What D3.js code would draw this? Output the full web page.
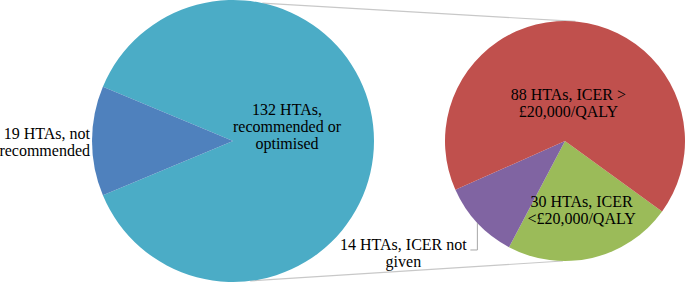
<!DOCTYPE html>
<html>
<head>
<meta charset="utf-8">
<script src="https://cdn.jsdelivr.net/npm/d3@7"></script>
<style>
  html, body { margin: 0; padding: 0; background: #fff; }
</style>
</head>
<body>
<script>
// data
const mainLabels = [["132 HTAs,", "recommended or", "optimised"], ["19 HTAs, not", "recommended"]];
const mainValues = [132, 19];
const mainColors = ["#4bacc6", "#4f81bd"];

const subLabels = [["30 HTAs, ICER", "<£20,000/QALY"], ["14 HTAs, ICER not", "given"], ["88 HTAs, ICER >", "£20,000/QALY"]];
const subValues = [30, 14, 88];
const subColors = ["#9bbb59", "#8064a2", "#c0504d"];

const width = 685, height = 282;
const rad = d => d * Math.PI / 180;

const svg = d3.select("body").append("svg")
  .attr("width", width).attr("height", height)
  .attr("font-family", "'Liberation Serif', 'Times New Roman', Times, 'DejaVu Serif', serif")
  .attr("font-size", 16);

// geometry
const L = { x: 233, y: 141, r: 141 };
const R = { x: 565, y: 141, r: 120 };

const pt = (c, a, r) => [c.x + r * Math.sin(rad(a)), c.y - r * Math.cos(rad(a))];

// connector lines (behind pies)
svg.append("line")
  .attr("x1", pt(L, 12, L.r)[0]).attr("y1", pt(L, 12, L.r)[1])
  .attr("x2", pt(R, 5, R.r)[0]).attr("y2", pt(R, 5, R.r)[1])
  .attr("stroke", "#c8c8c8").attr("stroke-width", 1.2);
svg.append("line")
  .attr("x1", pt(L, 173, L.r)[0]).attr("y1", pt(L, 173, L.r)[1])
  .attr("x2", pt(R, 181, R.r)[0]).attr("y2", pt(R, 181, R.r)[1])
  .attr("stroke", "#c8c8c8").attr("stroke-width", 1.2);

// left pie
const blueSpan = 360 * mainValues[1] / d3.sum(mainValues);
const pieL = d3.pie().sort(null).value(d => d)
  .startAngle(rad(270 + blueSpan / 2 - 360)).endAngle(rad(270 + blueSpan / 2));
const arcsL = pieL(mainValues);
const arcL = d3.arc().innerRadius(0).outerRadius(L.r);

const gL = svg.append("g").attr("transform", `translate(${L.x},${L.y})`);
gL.selectAll("path").data(arcsL).join("path")
  .attr("d", arcL).attr("fill", (d, i) => mainColors[i]);

// right pie
const pieR = d3.pie().sort(null).value(d => d)
  .startAngle(rad(126)).endAngle(rad(486));
const arcsR = pieR(subValues);
const arcR = d3.arc().innerRadius(0).outerRadius(R.r);

const gR = svg.append("g").attr("transform", `translate(${R.x},${R.y})`);
gR.selectAll("path").data(arcsR).join("path")
  .attr("d", arcR).attr("fill", (d, i) => subColors[i]);

// labels
function label(g, x, y, lines, anchor) {
  const t = g.append("text").attr("text-anchor", anchor || "middle").attr("fill", "#000");
  lines.forEach((s, i) => {
    t.append("tspan").attr("x", x).attr("y", y + i * 17).text(s);
  });
}

const mid = d => (d.startAngle + d.endAngle) / 2;
const at = (d, r) => [r * Math.sin(mid(d)), -r * Math.cos(mid(d))];

// left labels
let p = at(arcsL[0], 54);
label(gL, p[0], p[1] - 26, mainLabels[0]);
p = at(arcsL[1], L.r + 2);
label(gL, p[0], p[1] - 2, mainLabels[1], "end");

// right labels
p = at(arcsR[2], 32);
label(gR, p[0], p[1] - 9, subLabels[2]);
p = at(arcsR[0], 73);
label(gR, p[0], p[1] - 5, subLabels[0]);

// purple: outside with leader line
const e = at(arcsR[1], R.r);
gR.append("path")
  .attr("d", `M${e[0] - 7},${e[1] + 27}H${e[0]}V${e[1]}`)
  .attr("fill", "none").attr("stroke", "#a6a6a6").attr("stroke-width", 1);
label(gR, e[0] - 74, e[1] + 27, subLabels[1]);
</script>
</body>
</html>
